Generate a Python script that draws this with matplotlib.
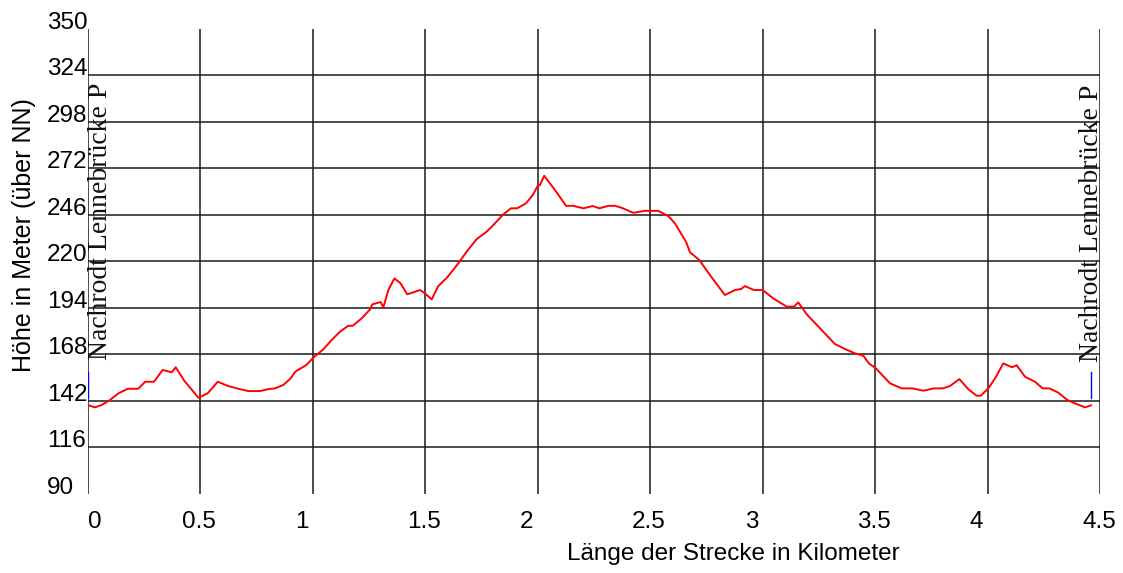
import matplotlib
matplotlib.use("Agg")
import matplotlib.pyplot as plt
from matplotlib.transforms import ScaledTranslation

# ---- data ----
distance_km = [0.000, 0.032, 0.062, 0.099, 0.136, 0.178, 0.225, 0.255, 0.295, 0.333,
               0.373, 0.391, 0.429, 0.492, 0.533, 0.578, 0.625, 0.669, 0.714, 0.766,
               0.803, 0.832, 0.869, 0.900, 0.921, 0.929, 0.971, 1.006, 1.047, 1.084,
               1.121, 1.158, 1.178, 1.218, 1.255, 1.265, 1.302, 1.314, 1.336, 1.363,
               1.391, 1.420, 1.477, 1.499, 1.529, 1.558, 1.598, 1.647, 1.684, 1.729,
               1.773, 1.810, 1.847, 1.881, 1.909, 1.948, 1.978, 2.000, 2.010, 2.029,
               2.077, 2.126, 2.158, 2.203, 2.244, 2.274, 2.314, 2.344, 2.373, 2.425,
               2.477, 2.536, 2.580, 2.610, 2.659, 2.677, 2.718, 2.773, 2.832, 2.877,
               2.904, 2.921, 2.961, 3.000, 3.047, 3.107, 3.139, 3.158, 3.196, 3.262,
               3.321, 3.366, 3.410, 3.447, 3.472, 3.503, 3.566, 3.618, 3.667, 3.714,
               3.761, 3.800, 3.832, 3.874, 3.914, 3.951, 3.969, 4.003, 4.037, 4.069,
               4.107, 4.129, 4.166, 4.210, 4.244, 4.274, 4.314, 4.354, 4.388, 4.432,
               4.459]
elevation_m = [139.6, 138.3, 139.6, 142.4, 146.1, 148.7, 148.7, 152.6, 152.6, 159.2,
               157.9, 160.7, 153.2, 143.7, 146.1, 152.6, 150.2, 148.7, 147.4, 147.4,
               148.5, 148.9, 150.8, 154.2, 158.0, 158.8, 161.9, 166.5, 170.7, 175.9,
               180.6, 183.9, 183.9, 188.1, 193.1, 195.9, 197.2, 194.2, 203.9, 210.4,
               207.6, 201.5, 203.9, 202.0, 198.7, 206.1, 211.0, 218.8, 225.3, 232.4,
               236.5, 241.2, 246.2, 249.6, 249.6, 252.4, 257.0, 262.2, 262.6, 267.8,
               259.8, 251.0, 251.0, 249.6, 250.9, 249.6, 251.0, 251.0, 249.9, 247.1,
               248.2, 248.2, 245.3, 241.2, 230.9, 225.0, 220.7, 211.0, 201.1, 203.9,
               204.5, 206.1, 203.9, 203.9, 199.2, 194.6, 194.6, 197.0, 190.3, 181.5,
               173.7, 170.9, 168.5, 167.2, 162.9, 160.1, 151.7, 148.9, 148.9, 147.6,
               148.9, 148.9, 150.2, 154.1, 148.4, 144.8, 144.8, 148.9, 155.4, 162.9,
               160.7, 161.8, 155.4, 152.6, 148.9, 148.9, 146.5, 142.4, 140.5, 138.3,
               139.4]

x_ticks = [0, 0.5, 1, 1.5, 2, 2.5, 3, 3.5, 4, 4.5]
x_tick_labels = ["0", "0.5", "1", "1.5", "2", "2.5", "3", "3.5", "4", "4.5"]
y_ticks = [90, 116, 142, 168, 194, 220, 246, 272, 298, 324, 350]
y_tick_labels = [str(v) for v in y_ticks]

waypoint_name = "Nachrodt Lennebrücke P"
waypoint_km = [0.0, 4.459]
waypoint_marker_range = [143.5, 158.0]

x_label = "Länge der Strecke in Kilometer"
y_label = "Höhe in Meter (über NN)"

# ---- figure ----
W, H, DPI = 1123, 573, 100
fig = plt.figure(figsize=(W / DPI, H / DPI), dpi=DPI)
left_px, right_px, top_px, bottom_px = 87.7, 1100.2, 28.8, 493.7
ax = fig.add_axes([left_px / W, 1 - bottom_px / H,
                   (right_px - left_px) / W, (bottom_px - top_px) / H])
ax.set_xlim(0, 4.5)
ax.set_ylim(90, 350)
for s in ax.spines.values():
    s.set_visible(False)

grid_kw = dict(color="#1a1a1a", linewidth=1.1, zorder=1)
for xv in x_ticks:
    ax.axvline(xv, **grid_kw)
for yv in y_ticks[1:-1]:
    ax.axhline(yv, **grid_kw)

ax.plot(distance_km, elevation_m, color="#ff0000", linewidth=1.4, zorder=3)

for xv in waypoint_km:
    ax.plot([xv, xv], waypoint_marker_range, color="#0000ff", linewidth=1.0, zorder=4)

ax.text(0.055, 164.7, waypoint_name, rotation=90, ha="center", va="bottom",
        family="Liberation Serif", fontsize=20, color="#111111", zorder=5)
ax.text(4.463, 163.6, waypoint_name, rotation=90, ha="center", va="bottom",
        family="Liberation Serif", fontsize=20, color="#111111", zorder=5)

FS = 17.5
ax.set_xticks(x_ticks)
ax.set_xticklabels(x_tick_labels, family="Liberation Sans", fontsize=FS)
ax.set_yticks(y_ticks)
ax.set_yticklabels(y_tick_labels, family="Liberation Sans", fontsize=FS)
ax.tick_params(axis="both", length=0)
ax.tick_params(axis="y", pad=29.3)
ax.tick_params(axis="x", pad=12.5)

for lab in ax.get_yticklabels():
    lab.set_horizontalalignment("left")
    lab.set_transform(lab.get_transform() + ScaledTranslation(0, 8.5 / DPI, fig.dpi_scale_trans))
for i, lab in enumerate(ax.get_xticklabels()):
    lab.set_horizontalalignment("left")
    dx = 0 if i == 0 else -18
    lab.set_transform(lab.get_transform() + ScaledTranslation(dx / DPI, 0, fig.dpi_scale_trans))

ax.set_xlabel(x_label, family="Liberation Sans", fontsize=FS)
ax.xaxis.set_label_coords(0.6373, -0.105)
ax.set_ylabel(y_label, family="Liberation Sans", fontsize=FS + 0.5)
ax.yaxis.set_label_coords(-0.051, 0.5565)

fig.savefig("out.png", dpi=DPI)
